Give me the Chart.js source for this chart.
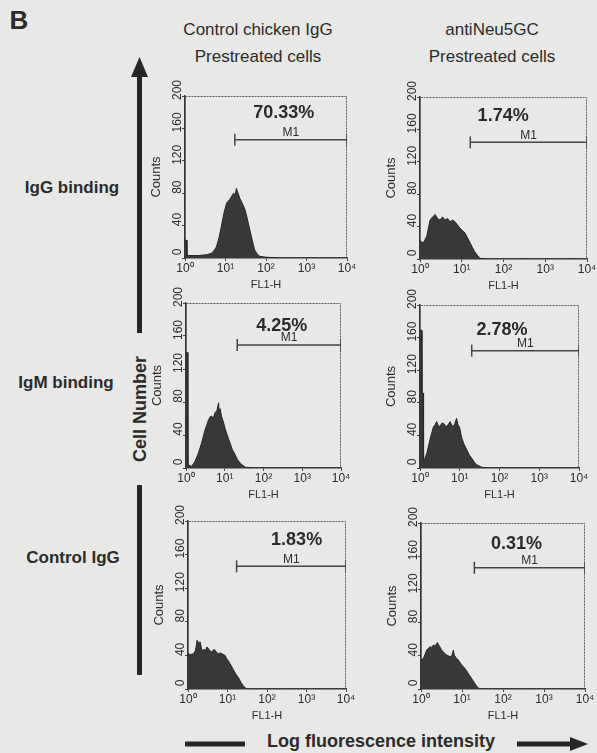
<!DOCTYPE html>
<html lang="en">
<head>
<meta charset="UTF-8">
<title>Flow cytometry – Neu5Gc binding</title>
<script src="https://cdn.jsdelivr.net/npm/chart.js"></script>
<style>
  html, body {
    margin: 0;
    padding: 0;
    width: 597px;
    height: 753px;
    overflow: hidden;
    background: #e8e8e6;
    font-family: "Liberation Sans", Arial, sans-serif;
    color: #2b2b2b;
  }
  .lbl {
    position: absolute;
    white-space: nowrap;
    transform: translate(-50%, -50%);
  }
  .head { font-size: 17px; }
  .row { font-size: 17px; font-weight: bold; }
  canvas { position: absolute; }
  svg { position: absolute; left: 0; top: 0; }
</style>
</head>
<body>

<div class="lbl" style="left:19px; top:20px; font-size:26px; font-weight:bold;">B</div>

<div class="lbl head" style="left:258px; top:30px;">Control chicken IgG</div>
<div class="lbl head" style="left:258px; top:57px;">Prestreated cells</div>
<div class="lbl head" style="left:492px; top:30px;">antiNeu5GC</div>
<div class="lbl head" style="left:492px; top:57px;">Prestreated cells</div>

<div class="lbl row" style="left:72px; top:188px;">IgG binding</div>
<div class="lbl row" style="left:66px; top:383px;">IgM binding</div>
<div class="lbl row" style="left:73px; top:558px;">Control IgG</div>

<div class="lbl row" style="left:140px; top:409px; font-size:18px; transform: translate(-50%, -50%) rotate(-90deg);">Cell Number</div>
<div class="lbl row" style="left:381px; top:741px; font-size:18px;">Log fluorescence intensity</div>

<svg width="597" height="753">
  <!-- cell number arrow -->
  <line x1="139.5" y1="74" x2="139.5" y2="333" stroke="#262626" stroke-width="5"/>
  <polygon points="131,77 148,77 139.5,57" fill="#262626"/>
  <line x1="139.5" y1="485" x2="139.5" y2="675" stroke="#262626" stroke-width="5"/>
  <!-- fluorescence arrow -->
  <line x1="185" y1="744" x2="245" y2="744" stroke="#262626" stroke-width="5"/>
  <line x1="517" y1="744" x2="574" y2="744" stroke="#262626" stroke-width="5"/>
  <polygon points="570,737 570,751 588,744" fill="#262626"/>
</svg>

<script>
// FL1-H axis (log) and count axis
const fl1Ticks = [1, 10, 100, 1000, 10000];
const fl1TickLabels = ['10\u2070', '10\u00b9', '10\u00b2', '10\u00b3', '10\u2074'];
const countMax = 200;
const countStep = 40;

// IgG binding, control chicken IgG prestreated
const iggCtrlFl1 = [1, 1.08, 1.12, 2, 3.5, 4.5, 5.2, 6, 6.9, 7.9, 9.1, 10.7, 12.6, 14.1, 15.8, 17.4, 18.6, 20.4, 22.4, 25.7, 30.2, 34.7, 39.8, 45.7, 52.5, 60.3, 70.8, 100, 200, 10000];
const iggCtrlCounts = [22, 22, 3, 3, 4, 6, 9, 14, 25, 39, 55, 68, 72, 76, 80, 78, 86, 80, 74, 68, 60, 48, 35, 22, 10, 5, 2, 1, 0, 0];

// IgG binding, antiNeu5GC prestreated
const iggAntiFl1 = [1, 1.2, 1.45, 1.74, 2, 2.3, 2.63, 3.02, 3.47, 3.98, 4.57, 5.25, 6.03, 6.92, 7.94, 9.12, 10.5, 12, 13.8, 15.8, 18.2, 20.4, 23.4, 26.9, 39.8, 10000];
const iggAntiCounts = [22, 20, 28, 48, 52, 55, 50, 48, 52, 48, 50, 46, 48, 46, 42, 38, 35, 32, 26, 20, 14, 9, 5, 1, 0, 0];

// IgM binding, control chicken IgG prestreated
const igmCtrlFl1 = [1, 1.08, 1.12, 1.41, 1.7, 2.09, 2.51, 3.09, 3.8, 4.17, 4.57, 5.01, 5.62, 6.31, 6.92, 7.24, 7.59, 8.32, 9.33, 10.2, 11.2, 12.6, 13.8, 15.8, 18.6, 21.4, 25.1, 29.5, 33.9, 50, 10000];
const igmCtrlCounts = [140, 140, 4, 2, 8, 18, 30, 46, 58, 62, 63, 60, 67, 70, 79, 66, 72, 62, 55, 48, 42, 35, 30, 22, 16, 10, 6, 3, 1, 0, 0];

// IgM binding, antiNeu5GC prestreated
const igmAntiFl1 = [1, 1.1, 1.12, 1.2, 1.23, 1.3, 1.38, 1.48, 1.62, 1.78, 2, 2.19, 2.4, 2.63, 2.88, 3.16, 3.55, 3.89, 4.27, 4.68, 5.25, 5.75, 6.31, 6.92, 7.59, 8.32, 9.12, 9.77, 11.2, 12.6, 15.1, 17.4, 20, 23.4, 26.9, 35.5, 50, 10000];
const igmAntiCounts = [169, 169, 92, 92, 10, 10, 14, 18, 26, 35, 44, 51, 53, 57, 52, 51, 55, 55, 52, 51, 54, 57, 52, 51, 55, 61, 52, 51, 37, 30, 22, 16, 12, 7, 4, 1, 0, 0];

// Control IgG, control chicken IgG prestreated
const ctlCtrlFl1 = [1, 1.15, 1.38, 1.55, 1.7, 1.86, 2.04, 2.24, 2.51, 2.75, 3.02, 3.31, 3.63, 4.07, 4.47, 4.9, 5.37, 5.89, 6.61, 7.24, 7.94, 8.71, 9.55, 10.7, 12.3, 14.1, 16.2, 19.1, 21.9, 25.7, 30.9, 10000];
const ctlCtrlCounts = [42, 41, 42, 46, 58, 55, 56, 46, 47, 46, 50, 48, 45, 44, 47, 46, 43, 42, 43, 42, 41, 40, 36, 33, 28, 23, 18, 13, 8, 3, 0, 0];

// Control IgG, antiNeu5GC prestreated
const ctlAntiFl1 = [1, 1.15, 1.26, 1.38, 1.51, 1.66, 1.82, 2, 2.24, 2.51, 2.69, 2.88, 3.16, 3.47, 3.8, 4.17, 4.68, 5.13, 5.62, 6.17, 6.46, 7.08, 8.13, 8.91, 9.77, 10.7, 11.7, 12.9, 14.1, 15.5, 17, 18.6, 20.4, 22.4, 25.1, 31.6, 10000];
const ctlAntiCounts = [35, 37, 42, 47, 49, 51, 50, 53, 52, 56, 53, 51, 47, 45, 43, 41, 40, 39, 40, 47, 41, 38, 35, 32, 29, 27, 25, 22, 19, 16, 13, 10, 7, 4, 1, 0, 0];

// M1 gates: start channel, end channel, count level, percent inside
const gateFrom = [17, 16, 21, 20, 17, 20];
const gateTo = [10000, 10000, 10000, 10000, 10000, 10000];
const gateLevel = [146, 144, 149, 144, 146, 146];
const gatePercent = ['70.33%', '1.74%', '4.25%', '2.78%', '1.83%', '0.31%'];

// plot rectangles [left, top, right, bottom] and where the percent sits
const panels = [
  { fl1: iggCtrlFl1, counts: iggCtrlCounts, box: [185, 96, 347, 258], pctAt: [275, 179] },
  { fl1: iggAntiFl1, counts: iggAntiCounts, box: [420, 97, 587, 259], pctAt: [98, 177] },
  { fl1: igmCtrlFl1, counts: igmCtrlCounts, box: [186, 303, 341, 468], pctAt: [295, 172] },
  { fl1: igmAntiFl1, counts: igmAntiCounts, box: [420, 305, 579, 468], pctAt: [115, 169] },
  { fl1: ctlCtrlFl1, counts: ctlCtrlCounts, box: [188, 521, 346, 689], pctAt: [562, 177] },
  { fl1: ctlAntiFl1, counts: ctlAntiCounts, box: [421, 523, 585, 689], pctAt: [214, 175] }
];

const FONT = '"Liberation Sans", Arial, sans-serif';
const INK = '#2b2b2b';
const Y_AXIS_W = 36;
const X_AXIS_H = 36;
const PAD_TOP = 20;
const PAD_RIGHT = 10;

// thin dotted box round the plot area
const framePlugin = {
  id: 'frame',
  beforeDatasetsDraw(chart) {
    const { ctx, chartArea: a } = chart;
    ctx.save();
    ctx.strokeStyle = '#5a5a5a';
    ctx.lineWidth = 1;
    ctx.setLineDash([2, 1]);
    ctx.strokeRect(a.left + 0.5, a.top + 0.5, a.width - 1, a.height - 1);
    ctx.restore();
  }
};

// percent and "M1" text over the gate bar
const gateLabelPlugin = {
  id: 'gateLabels',
  afterDatasetsDraw(chart, args, opts) {
    const { ctx, scales: { x, y } } = chart;
    ctx.save();
    ctx.fillStyle = INK;
    ctx.textAlign = 'center';
    ctx.textBaseline = 'middle';
    ctx.font = 'bold 18px ' + FONT;
    ctx.fillText(opts.text, x.getPixelForValue(opts.pctAt[0]), y.getPixelForValue(opts.pctAt[1]));
    const mx = (x.getPixelForValue(opts.from) + x.getPixelForValue(opts.to)) / 2;
    ctx.font = '12px ' + FONT;
    ctx.textBaseline = 'bottom';
    ctx.fillText('M1', mx, y.getPixelForValue(opts.level) - 1);
    ctx.restore();
  }
};

panels.forEach((p, i) => {
  const [l, t, r, b] = p.box;
  const canvas = document.createElement('canvas');
  const w = Y_AXIS_W + (r - l) + PAD_RIGHT;
  const h = PAD_TOP + (b - t) + X_AXIS_H;
  canvas.width = w;
  canvas.height = h;
  canvas.style.left = (l - Y_AXIS_W) + 'px';
  canvas.style.top = (t - PAD_TOP) + 'px';
  document.body.appendChild(canvas);

  const hist = p.fl1.map((v, k) => ({ x: v, y: p.counts[k] }));
  const gate = [{ x: gateFrom[i], y: gateLevel[i] }, { x: gateTo[i], y: gateLevel[i] }];

  new Chart(canvas.getContext('2d'), {
    type: 'line',
    data: {
      datasets: [
        {
          data: hist,
          borderColor: '#262626',
          borderWidth: 1,
          backgroundColor: '#383838',
          fill: 'origin',
          pointRadius: 0,
          tension: 0
        },
        {
          data: gate,
          borderColor: '#454545',
          borderWidth: 1.5,
          fill: false,
          pointStyle: 'line',
          rotation: 90,
          pointRadius: 6,
          pointBorderWidth: 1.5,
          pointBorderColor: '#454545'
        }
      ]
    },
    options: {
      responsive: false,
      animation: false,
      events: [],
      layout: { padding: { top: PAD_TOP, right: PAD_RIGHT, left: 0, bottom: 0 } },
      scales: {
        x: {
          type: 'logarithmic',
          min: fl1Ticks[0],
          max: fl1Ticks[fl1Ticks.length - 1],
          afterBuildTicks: s => { s.ticks = fl1Ticks.map(v => ({ value: v })); },
          afterFit: s => { s.height = X_AXIS_H; },
          ticks: {
            autoSkip: false,
            maxRotation: 0,
            padding: 0,
            color: INK,
            font: { family: FONT, size: 12 },
            callback: (v, k) => fl1TickLabels[k]
          },
          title: {
            display: true,
            text: 'FL1-H',
            color: INK,
            font: { family: FONT, size: 11 },
            padding: { top: 0, bottom: 2 }
          },
          grid: { drawOnChartArea: false, tickLength: 3, color: '#444' },
          border: { color: '#333', width: 1.5 }
        },
        y: {
          type: 'linear',
          min: 0,
          max: countMax,
          afterFit: s => { s.width = Y_AXIS_W; },
          ticks: {
            stepSize: countStep,
            minRotation: 90,
            maxRotation: 90,
            crossAlign: 'center',
            padding: -6,
            labelOffset: -6,
            color: INK,
            font: { family: FONT, size: 12 }
          },
          title: {
            display: true,
            text: 'Counts',
            color: INK,
            font: { family: FONT, size: 13 },
            padding: 0
          },
          grid: { drawOnChartArea: false, tickLength: 3, color: '#444' },
          border: { color: '#333', width: 1.5 }
        }
      },
      plugins: {
        legend: { display: false },
        tooltip: { enabled: false },
        gateLabels: {
          text: gatePercent[i],
          pctAt: p.pctAt,
          from: gateFrom[i],
          to: gateTo[i],
          level: gateLevel[i]
        }
      }
    },
    plugins: [framePlugin, gateLabelPlugin]
  });
});
</script>
</body>
</html>
